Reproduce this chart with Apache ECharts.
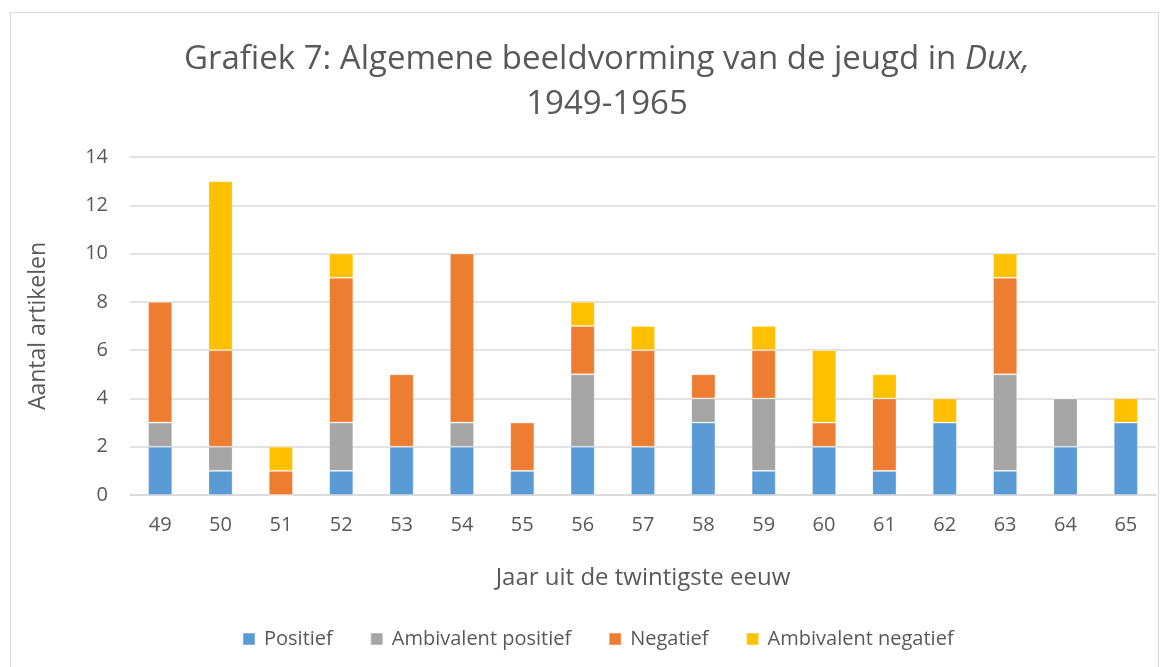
<!DOCTYPE html>
<html>
<head>
<meta charset="utf-8">
<script src="https://cdn.jsdelivr.net/npm/echarts@6/dist/echarts.min.js"></script>
<style>
  html, body { margin: 0; padding: 0; background: #fff; }
  #frame { position: absolute; left: 10px; top: 12px; width: 1149px; height: 680px; border: 1px solid #d9d9d9; box-sizing: border-box; }
  #main { position: absolute; left: 0; top: 0; width: 1174px; height: 667px; }
</style>
</head>
<body>
<div id="frame"></div>
<div id="main"></div>
<script>
var years = ['49', '50', '51', '52', '53', '54', '55', '56', '57', '58', '59', '60', '61', '62', '63', '64', '65'];
var positief = [2, 1, 0, 1, 2, 2, 1, 2, 2, 3, 1, 2, 1, 3, 1, 2, 3];
var ambivalentPositief = [1, 1, 0, 2, 0, 1, 0, 3, 0, 1, 3, 0, 0, 0, 4, 2, 0];
var negatief = [5, 4, 1, 6, 3, 7, 2, 2, 4, 1, 2, 1, 3, 0, 4, 0, 0];
var ambivalentNegatief = [0, 7, 1, 1, 0, 0, 0, 1, 1, 0, 1, 3, 1, 1, 1, 0, 1];

var font = 'Open Sans';
var textColor = '#595959';

function bar(name, data, color) {
    return {
        name: name,
        type: 'bar',
        stack: 'total',
        barWidth: '40%',
        itemStyle: { color: color, borderColor: 'rgba(255,255,255,0.25)', borderWidth: 1 },
        data: data
    };
}

var option = {
    animation: false,
    textStyle: { fontFamily: font },
    title: {
        left: 602,
        top: 32,
        textAlign: 'center',
        text: '{a|Grafiek 7: Algemene beeldvorming van de jeugd in }{b|Dux,}\n{a|1949-1965}',
        textStyle: {
            rich: {
                a: { fontFamily: font, fontSize: 33, fontWeight: 'normal', color: textColor, lineHeight: 45 },
                b: { fontFamily: font, fontSize: 33, fontWeight: 'normal', color: textColor, fontStyle: 'italic', lineHeight: 45 }
            }
        }
    },
    legend: {
        top: 624,
        left: 237,
        itemWidth: 12,
        itemHeight: 12,
        itemGap: 37,
        icon: 'rect',
        textStyle: { fontFamily: font, fontSize: 20, color: textColor, padding: [0, 0, 0, 4] },
        data: ['Positief', 'Ambivalent positief', 'Negatief', 'Ambivalent negatief']
    },
    grid: {
        left: 130,
        right: 18,
        top: 157,
        bottom: 172
    },
    xAxis: {
        type: 'category',
        data: years,
        name: 'Jaar uit de twintigste eeuw',
        nameLocation: 'middle',
        nameGap: 71,
        nameTextStyle: { fontFamily: font, fontSize: 24, color: textColor },
        axisLine: { lineStyle: { color: '#d9d9d9', width: 1.5 } },
        axisTick: { show: false },
        axisLabel: { fontSize: 20, color: textColor, margin: 20 }
    },
    yAxis: {
        type: 'value',
        min: 0,
        max: 14,
        interval: 2,
        name: 'Aantal artikelen',
        nameLocation: 'middle',
        nameGap: 80,
        nameTextStyle: { fontFamily: font, fontSize: 23, color: textColor },
        axisLabel: { fontSize: 20, color: textColor, margin: 22 },
        splitLine: { lineStyle: { color: '#d9d9d9', width: 1.5 } }
    },
    series: [
        bar('Positief', positief, '#5b9bd5'),
        bar('Ambivalent positief', ambivalentPositief, '#a5a5a5'),
        bar('Negatief', negatief, '#ed7d31'),
        bar('Ambivalent negatief', ambivalentNegatief, '#ffc000')
    ]
};

var chart = echarts.init(document.getElementById('main'));
chart.setOption(option);
</script>
</body>
</html>
